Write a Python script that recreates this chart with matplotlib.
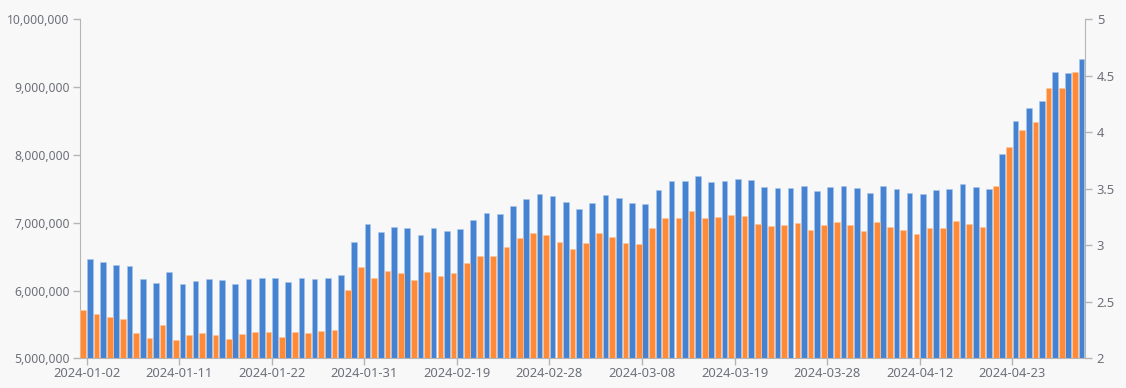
import matplotlib
matplotlib.use("Agg")
import matplotlib.pyplot as plt
import numpy as np
from matplotlib.ticker import FuncFormatter, FixedLocator

dates = [
    "2024-01-02", "2024-01-03", "2024-01-04", "2024-01-05", "2024-01-08", "2024-01-09", "2024-01-10",
    "2024-01-11", "2024-01-12", "2024-01-15", "2024-01-16", "2024-01-17", "2024-01-18", "2024-01-19",
    "2024-01-22", "2024-01-23", "2024-01-24", "2024-01-25", "2024-01-26", "2024-01-29", "2024-01-30",
    "2024-01-31", "2024-02-01", "2024-02-02", "2024-02-05", "2024-02-06", "2024-02-07", "2024-02-08",
    "2024-02-19", "2024-02-20", "2024-02-21", "2024-02-22", "2024-02-23", "2024-02-26", "2024-02-27",
    "2024-02-28", "2024-02-29", "2024-03-01", "2024-03-04", "2024-03-05", "2024-03-06", "2024-03-07",
    "2024-03-08", "2024-03-11", "2024-03-12", "2024-03-13", "2024-03-14", "2024-03-15", "2024-03-18",
    "2024-03-19", "2024-03-20", "2024-03-21", "2024-03-22", "2024-03-25", "2024-03-26", "2024-03-27",
    "2024-03-28", "2024-03-29", "2024-04-01", "2024-04-02", "2024-04-03", "2024-04-08", "2024-04-11",
    "2024-04-12", "2024-04-15", "2024-04-16", "2024-04-17", "2024-04-18", "2024-04-19", "2024-04-22",
    "2024-04-23", "2024-04-24", "2024-04-25", "2024-04-26", "2024-04-29", "2024-04-30",
]

blue_values = [
    6460000, 6425000, 6376000, 6361000, 6174000, 6111000, 6273000, 6096000, 6140000, 6174000,
    6155000, 6096000, 6174000, 6189000, 6189000, 6125000, 6189000, 6174000, 6189000, 6224000,
    6711000, 6985000, 6858000, 6941000, 6922000, 6823000, 6922000, 6878000, 6907000, 7040000,
    7143000, 7128000, 7242000, 7345000, 7423000, 7389000, 7305000, 7206000, 7295000, 7409000,
    7360000, 7295000, 7276000, 7478000, 7611000, 7611000, 7693000, 7596000, 7611000, 7645000,
    7625000, 7527000, 7512000, 7512000, 7541000, 7463000, 7527000, 7541000, 7512000, 7442000,
    7541000, 7492000, 7442000, 7430000, 7482000, 7497000, 7571000, 7527000, 7497000, 8013000,
    8500000, 8690000, 8800000, 9220000, 9210000, 9410000,
]

orange_values = [
    2.427, 2.395, 2.365, 2.348, 2.221, 2.177, 2.292, 2.162, 2.204, 2.221,
    2.209, 2.171, 2.218, 2.235, 2.230, 2.186, 2.233, 2.224, 2.242, 2.253,
    2.607, 2.808, 2.708, 2.773, 2.755, 2.690, 2.761, 2.728, 2.752, 2.843,
    2.908, 2.905, 2.988, 3.062, 3.112, 3.094, 3.027, 2.965, 3.020, 3.106,
    3.073, 3.018, 3.009, 3.153, 3.244, 3.242, 3.306, 3.239, 3.250, 3.265,
    3.255, 3.188, 3.171, 3.177, 3.197, 3.138, 3.182, 3.206, 3.180, 3.127,
    3.204, 3.162, 3.133, 3.100, 3.153, 3.153, 3.215, 3.190, 3.162, 3.525,
    3.870, 4.020, 4.090, 4.390, 4.390, 4.530,
]

left_ticks = [5000000, 6000000, 7000000, 8000000, 9000000, 10000000]
right_ticks = [2, 2.5, 3, 3.5, 4, 4.5, 5]
right_tick_labels = ["2", "2.5", "3", "3.5", "4", "4.5", "5"]

BLUE = "#4582d1"
ORANGE = "#ff8b38"
TEXT = "#6e7079"
AXIS = "#b5b5b5"
BG = "#f8f8f8"

plt.rcParams['font.family'] = ['Noto Sans', 'DejaVu Sans']

fig = plt.figure(figsize=(11.26, 3.88), dpi=100, facecolor=BG)
ax = fig.add_axes([80/1126, 1 - 358.3/388, (1085-80)/1126, (358.3-19.3)/388])
ax.set_facecolor(BG)
ax2 = ax.twinx()

x = np.arange(len(dates))
w = 0.43
ax.bar(x + 0.24, blue_values, width=w, color=BLUE, edgecolor="#a9c6ec", linewidth=0.4, zorder=2)
ax2.bar(x - 0.25, orange_values, width=w, color=ORANGE, edgecolor="#ffc79e", linewidth=0.4, zorder=2)

ax.set_xlim(-0.5, len(dates) - 0.5)
ax.set_ylim(5000000, 10000000)
ax2.set_ylim(2, 5)

ax.yaxis.set_major_locator(FixedLocator(left_ticks))
ax.yaxis.set_major_formatter(FuncFormatter(lambda v, p: f"{int(v):,}"))
ax2.yaxis.set_major_locator(FixedLocator(right_ticks))
ax2.set_yticklabels(right_tick_labels)

tick_idx = list(range(0, len(dates), 7))
ax.set_xticks(tick_idx)
ax.set_xticklabels([dates[i] for i in tick_idx])

for a in (ax, ax2):
    for s in a.spines.values():
        s.set_visible(False)
ax.spines['left'].set_visible(True)
ax.spines['left'].set_color(AXIS)
ax.spines['bottom'].set_visible(True)
ax.spines['bottom'].set_color(AXIS)
ax2.spines['right'].set_visible(True)
ax2.spines['right'].set_color(AXIS)

ax.tick_params(axis='y', colors=AXIS, labelcolor=TEXT, labelsize=8.8, length=5, width=1, pad=2.5)
ax.tick_params(axis='x', colors=AXIS, labelcolor=TEXT, labelsize=9.3, length=5, width=1, pad=1.5)
ax2.tick_params(axis='y', colors=AXIS, labelcolor=TEXT, labelsize=9.3, length=5, width=1, pad=3.5)

fig.savefig("out.png", dpi=100, facecolor=BG)
